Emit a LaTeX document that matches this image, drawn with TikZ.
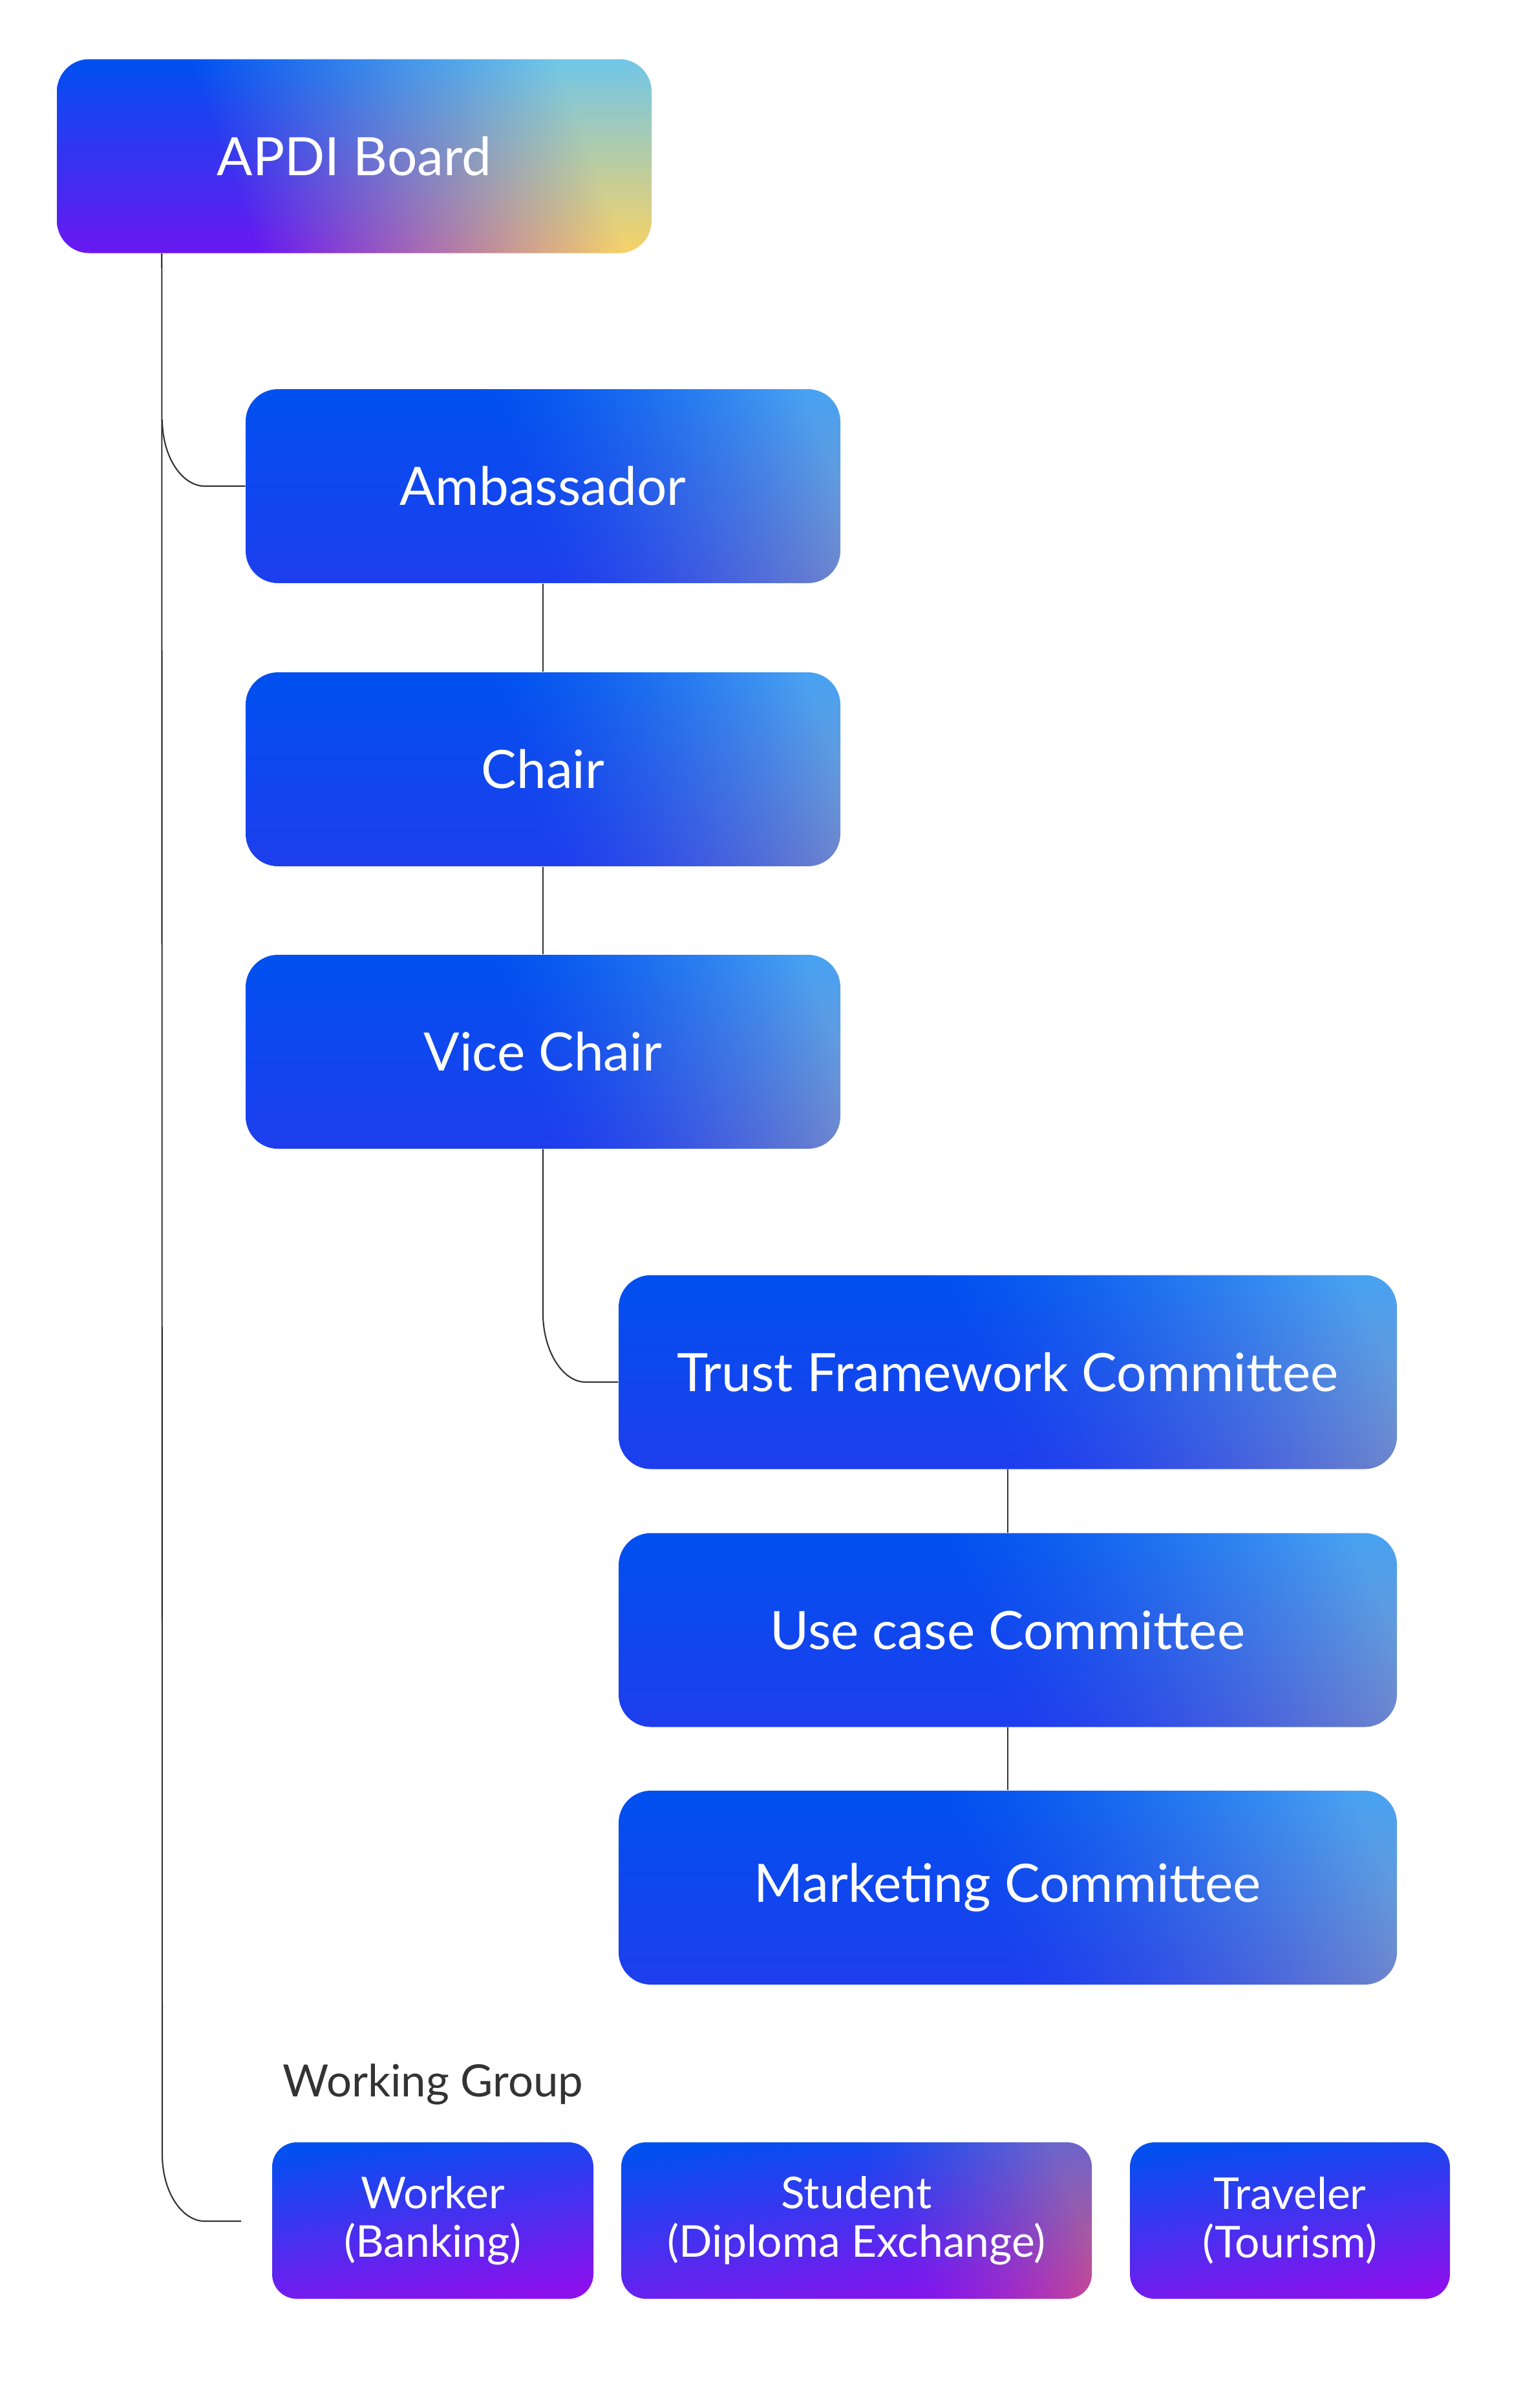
\documentclass[tikz,border=0pt]{standalone}
\usepackage{fontspec}
\setmainfont{Lato}
\definecolor{grouptop}{HTML}{0250F0}
\definecolor{groupbot}{HTML}{8C10EE}
\definecolor{linegray}{HTML}{333333}
% one colour channel: base (bottom, delta) blended towards glow (bottom, delta) by weight w
\def\mixchan#1#2#3#4{1 index #2 mul #1 add 2 index #4 mul #3 add 1 index sub 2 index mul add 3 1 roll}
% glow weight from u (across) and v (up): start, span, power
\def\glowweight#1#2#3{dup 0.12 mul 0.06 sub 3 -1 roll add #1 sub #2 div dup 0 lt {pop 0} if dup 1 gt {pop 1} if #3 exp}
\pgfdeclarefunctionalshading{roleshade}{\pgfpointorigin}{\pgfpoint{100bp}{100bp}}{}{
  25 sub 50 div exch 25 sub 50 div exch
  \glowweight{0.45}{0.55}{1.4}
  \mixchan{0.118}{-0.118}{0.49}{-0.208}
  \mixchan{0.243}{0.071}{0.57}{0.065}
  \mixchan{0.933}{0.004}{0.78}{0.169}
  pop pop
}
\pgfdeclarefunctionalshading{boardshade}{\pgfpointorigin}{\pgfpoint{100bp}{100bp}}{}{
  25 sub 50 div exch 25 sub 50 div exch
  \glowweight{0.28}{0.62}{1.0}
  \mixchan{0.416}{-0.416}{0.973}{-0.533}
  \mixchan{0.094}{0.22}{0.824}{-0.048}
  \mixchan{0.941}{0.0}{0.4}{0.51}
  pop pop
}
\pgfdeclarefunctionalshading{studentshade}{\pgfpointorigin}{\pgfpoint{100bp}{100bp}}{}{
  25 sub 50 div exch 25 sub 50 div exch
  \glowweight{0.55}{0.45}{1.4}
  \mixchan{0.549}{-0.541}{0.78}{-0.48}
  \mixchan{0.063}{0.251}{0.32}{0.10}
  \mixchan{0.933}{0.008}{0.55}{0.33}
  pop pop
}
\tikzset{
  box/.style={rounded corners=0.5cm, minimum width=9.2cm, minimum height=3cm, inner sep=0pt, text=white, font=\fontsize{23.3}{27}\selectfont},
  rolebox/.style={box, shade, shading=roleshade},
  boardbox/.style={box, shade, shading=boardshade},
  groupbox/.style={rounded corners=0.38cm, minimum height=2.42cm, inner sep=0pt, align=center, text=white, font=\fontsize{19.3}{21.5}\selectfont, top color=grouptop, bottom color=groupbot, shading angle=8},
  link/.style={draw=linegray, line width=0.6pt},
}
\begin{document}
\begin{tikzpicture}[x=1cm,y=1cm]
\useasboundingbox (0,0) rectangle (23.7,-37.25);
% board and officers
\node[boardbox] (board) at (5.48,-2.415) {APDI Board};
\node[rolebox] (amb) at (8.40,-7.52) {Ambassador};
\node[rolebox] (chair) at (8.40,-11.90) {Chair};
\node[rolebox] (vice) at (8.40,-16.27) {Vice Chair};
% committees
\node[rolebox, minimum width=12.04cm] (tfc) at (15.59,-21.225) {Trust Framework Committee};
\node[rolebox, minimum width=12.04cm] (ucc) at (15.59,-25.215) {Use case Committee};
\node[rolebox, minimum width=12.04cm] (mc) at (15.59,-29.20) {Marketing Committee};
% working group
\node[anchor=base west, inner sep=0pt, text=linegray, font=\fontsize{19.6}{22}\selectfont] (wglabel) at (4.37,-32.43) {Working Group};
\node[groupbox, minimum width=4.97cm] (worker) at (6.695,-34.35) {Worker\\(Banking)};
\node[groupbox, minimum width=7.28cm, shading=studentshade] (student) at (13.25,-34.35) {Student\\(Diploma Exchange)};
\node[groupbox, minimum width=4.95cm] (traveler) at (19.955,-34.35) {Traveler\\(Tourism)};
% connectors
\coordinate (fork) at (2.51,-6.49);
\coordinate (wg) at (3.73,-34.36);
\draw[link] (board.south west) ++(1.63,0) -- (2.51,-33.33) .. controls (2.51,-33.90) and (2.81,-34.36) .. (3.17,-34.36) -- (wg);
\draw[link] (fork) .. controls (2.51,-7.06) and (2.81,-7.52) .. (3.17,-7.52) -- (amb.west);
\draw[link] (amb) -- (chair);
\draw[link] (chair) -- (vice);
\draw[link] (vice.south) -- (8.40,-20.32) .. controls (8.40,-20.89) and (8.70,-21.38) .. (9.06,-21.38) -- (tfc.west |- 0,-21.38);
\draw[link] (tfc) -- (ucc);
\draw[link] (ucc) -- (mc);
\end{tikzpicture}
\end{document}
